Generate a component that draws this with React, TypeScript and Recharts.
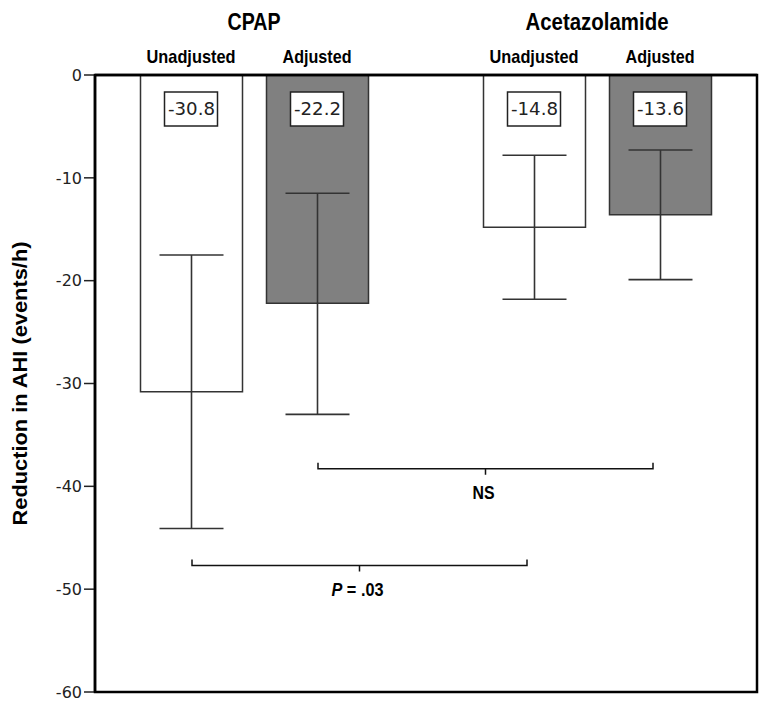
import React from 'react'
import { BarChart, Bar, XAxis, YAxis, ErrorBar, LabelList } from 'recharts'

// groups and values
const groups = ['CPAP', 'Acetazolamide']
const unadjusted = [-30.8, -14.8]
const adjusted = [-22.2, -13.6]
// [down, up] distances of the error bars from the bar value
const unadjustedErr = [[13.3, 13.3], [7.0, 7.0]]
const adjustedErr = [[10.8, 10.7], [6.3, 6.3]]
const yTicks = [0, -10, -20, -30, -40, -50, -60]
const subLabels = ['Unadjusted', 'Adjusted']
// significance brackets: [from bar, to bar, y value, text]
const brackets: [number, number, number, string][] = [
  [1, 3, -38.3, 'NS'],
  [0, 2, -47.7, 'P = .03'],
]

const data = groups.map((g, i) => ({
  name: g,
  unadj: unadjusted[i],
  adj: adjusted[i],
  unadjErr: unadjustedErr[i],
  adjErr: adjustedErr[i],
}))

const W = 772
const H = 713
const M = { top: 35, right: 15, bottom: 21, left: 35 }
const YW = 60
const TOPH = 40
const PL = M.left + YW // plot left
const PR = W - M.right
const PT = M.top + TOPH
const PB = H - M.bottom
const PADL = -12.5
const PADR = -11.5
const BAR = 102
const GAP = 24
const SANS = "'Liberation Sans', Arial, sans-serif"
const TICKF = "'DejaVu Sans', sans-serif"

// label widths (condensed look of the original)
const labelLen: Record<string, number> = {
  CPAP: 53, Acetazolamide: 143, Unadjusted: 89, Adjusted: 69,
}

const yPx = (v: number) => PT + (0 - v) / 60 * (PB - PT)
const band = (PR - PL - PADL - PADR) / 2
const barX = (idx: number) => {
  const g = Math.floor(idx / 2)
  const start = PL + PADL + g * band + (band - (2 * BAR + GAP)) / 2
  return start + BAR / 2 + (idx % 2) * (BAR + GAP)
}

function TopTick({ x, payload }: any) {
  return (
    <g>
      <text x={x} y={PT - 45} textAnchor="middle" fontFamily={SANS} fontWeight={700} fontSize={23} fill="#000"
        textLength={labelLen[payload.value]} lengthAdjust="spacingAndGlyphs">{payload.value}</text>
      {subLabels.map((s, i) => (
        <text key={s} x={x + (i === 0 ? -1 : 1) * (BAR + GAP) / 2} y={PT - 12} textAnchor="middle" fontFamily={SANS}
          fontWeight={700} fontSize={19} fill="#000" textLength={labelLen[s]} lengthAdjust="spacingAndGlyphs">{s}</text>
      ))}
    </g>
  )
}

function ValueBox(props: any) {
  const { x, width, value } = props
  const cx = x + width / 2
  const top = PT + 17
  return (
    <g>
      <rect x={cx - 27} y={top} width={53} height={34} fill="#fff" stroke="#222" strokeWidth={1.5} />
      <text x={cx} y={top + 23} textAnchor="middle" fontFamily={TICKF} fontSize={17} fill="#222"
        textLength={47} lengthAdjust="spacingAndGlyphs">{value}</text>
    </g>
  )
}

function Overlay() {
  return (
    <svg width={W} height={H} style={{ position: 'absolute', left: 0, top: 0, pointerEvents: 'none' }}>
      <rect x={PL} y={PT} width={PR - PL} height={PB - PT} fill="none" stroke="#000" strokeWidth={2.5} />
      {brackets.map(([a, b, v, t], i) => {
        const x1 = barX(a) + 1, x2 = barX(b) - 7, y = yPx(v), mid = (x1 + x2) / 2
        return (
          <g key={i} stroke="#111" strokeWidth={1.5} fill="none">
            <path d={`M${x1},${y - 6} L${x1},${y} L${x2},${y} L${x2},${y - 6} M${mid},${y} L${mid},${y + 6}`} />
            <text x={mid - 2} y={y + 30} textAnchor="middle" fontFamily={SANS} fontWeight={700} fontSize={18} fill="#000" stroke="none"
              textLength={t === 'NS' ? 22 : 52} lengthAdjust="spacingAndGlyphs">
              {t === 'NS' ? 'NS' : <><tspan fontStyle="italic">P</tspan> = .03</>}
            </text>
          </g>
        )
      })}
    </svg>
  )
}

export default function App() {
  return (
    <div style={{ position: 'absolute', left: 0, top: 0, width: W, height: H, background: '#fff' }}>
      <BarChart width={W} height={H} data={data} margin={M} barGap={GAP} barSize={BAR}>
        <XAxis dataKey="name" orientation="top" height={TOPH} padding={{ left: PADL, right: PADR }}
          axisLine={{ stroke: '#000', strokeWidth: 2.5 }} tickLine={false} tick={<TopTick />} interval={0} />
        <YAxis width={YW} domain={[-60, 0]} ticks={yTicks} interval={0}
          axisLine={{ stroke: '#000', strokeWidth: 2.5 }} tickSize={11} tickMargin={2}
          tickLine={{ stroke: '#222', strokeWidth: 1.5 }}
          tick={{ fill: '#222', fontSize: 16, fontFamily: TICKF }}
          label={{ content: () => (
            <text x={19} y={(PT + PB) / 2} transform={`rotate(-90 19 ${(PT + PB) / 2})`} textAnchor="middle" dominantBaseline="central"
              fontFamily={SANS} fontWeight={700} fontSize={21} fill="#000" textLength={284} lengthAdjust="spacingAndGlyphs">Reduction in AHI (events/h)</text>
          ) }} />
        <Bar dataKey="unadj" fill="#fff" stroke="#333" strokeWidth={1.5} isAnimationActive={false}>
          <ErrorBar dataKey="unadjErr" width={32} stroke="#333" strokeWidth={1.6} direction="y" />
          <LabelList dataKey="unadj" content={<ValueBox />} />
        </Bar>
        <Bar dataKey="adj" fill="#808080" stroke="#333" strokeWidth={1.5} isAnimationActive={false}>
          <ErrorBar dataKey="adjErr" width={32} stroke="#333" strokeWidth={1.6} direction="y" />
          <LabelList dataKey="adj" content={<ValueBox />} />
        </Bar>
      </BarChart>
      <Overlay />
    </div>
  )
}
